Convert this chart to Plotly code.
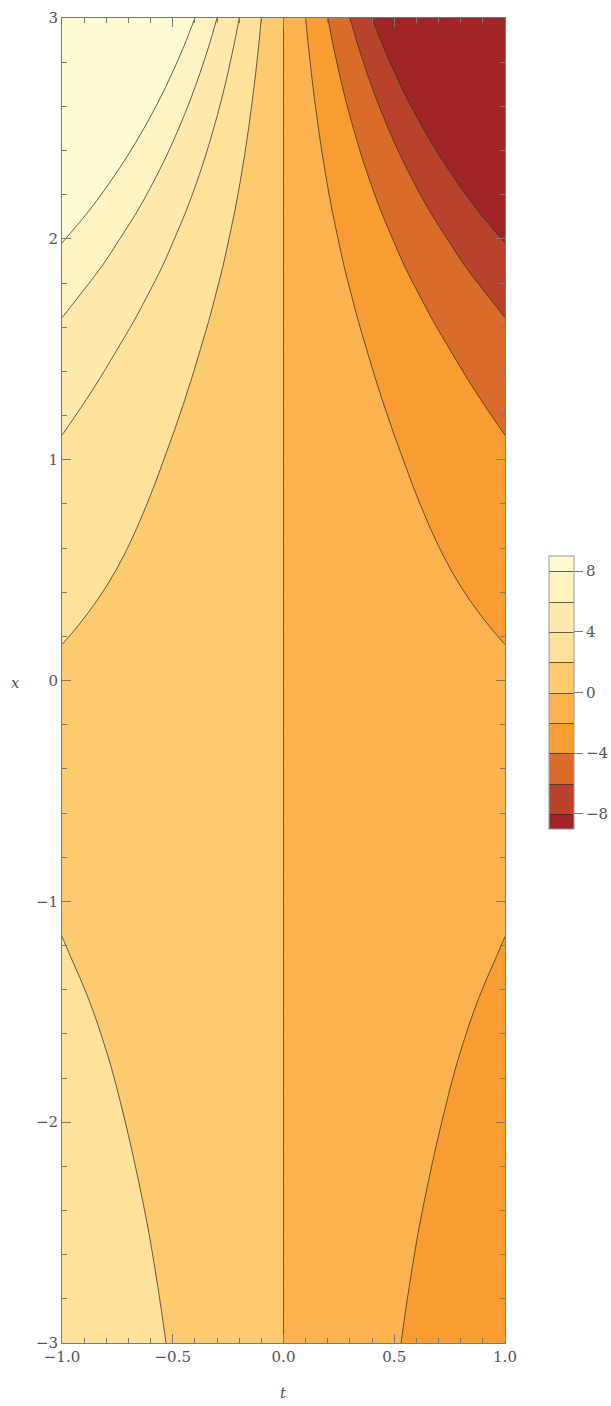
import plotly.graph_objects as go

# horizontal axis (t) sample positions: left edge, centre line, right edge
t_vals = [-1.0, 0.0, 1.0]
# vertical axis (x) sample positions, step 0.125
x_vals = [-3.0, -2.875, -2.75, -2.625, -2.5, -2.375, -2.25, -2.125,
          -2.0, -1.875, -1.75, -1.625, -1.5, -1.375, -1.25, -1.125,
          -1.0, -0.875, -0.75, -0.625, -0.5, -0.375, -0.25, -0.125,
          0.0, 0.125, 0.25, 0.375, 0.5, 0.625, 0.75, 0.875,
          1.0, 1.125, 1.25, 1.375, 1.5, 1.625, 1.75, 1.875,
          2.0, 2.125, 2.25, 2.375, 2.5, 2.625, 2.75, 2.875, 3.0]

# values (rows follow x_vals, columns follow t_vals)
z_rows = [
    [3.77, 0, -3.77], [3.65, 0, -3.65], [3.53, 0, -3.53], [3.41, 0, -3.41],
    [3.29, 0, -3.29], [3.165, 0, -3.165], [3.04, 0, -3.04], [2.92, 0, -2.92],
    [2.80, 0, -2.80], [2.685, 0, -2.685], [2.57, 0, -2.57], [2.45, 0, -2.45],
    [2.33, 0, -2.33], [2.205, 0, -2.205], [2.08, 0, -2.08], [1.97, 0, -1.97],
    [1.86, 0, -1.86], [1.76, 0, -1.76], [1.67, 0, -1.67], [1.60, 0, -1.60],
    [1.54, 0, -1.54], [1.52, 0, -1.52], [1.54, 0, -1.54], [1.61, 0, -1.61],
    [1.73, 0, -1.73], [1.93, 0, -1.93], [2.16, 0, -2.16], [2.40, 0, -2.40],
    [2.645, 0, -2.645], [2.89, 0, -2.89], [3.14, 0, -3.14], [3.41, 0, -3.41],
    [3.70, 0, -3.70], [4.04, 0, -4.04], [4.42, 0, -4.42], [4.85, 0, -4.85],
    [5.33, 0, -5.33], [5.91, 0, -5.91], [6.55, 0, -6.55], [7.31, 0, -7.31],
    [8.12, 0, -8.12], [9.09, 0, -9.09], [10.15, 0, -10.15], [11.35, 0, -11.35],
    [12.69, 0, -12.69], [14.21, 0, -14.21], [15.91, 0, -15.91], [17.84, 0, -17.84],
    [20.0, 0, -20.0],
]

# contour bands, lowest to highest
band_colors = ["#a02325", "#b8432a", "#d96c2b", "#f99c32", "#fcb34f",
               "#fdca6e", "#fee29a", "#ffeaad", "#fff3c2", "#fffbd5"]
legend_ticks = [-8, -4, 0, 4, 8]
legend_text = ["\u22128", "\u22124", "0", "4", "8"]
t_ticks = [-1.0, -0.5, 0.0, 0.5, 1.0]
t_tick_text = ["\u22121.0", "\u22120.5", "0.0", "0.5", "1.0"]
x_ticks = [-3, -2, -1, 0, 1, 2, 3]
x_tick_text = ["\u22123", "\u22122", "\u22121", "0", "1", "2", "3"]

FONT = "DejaVu Serif"
GREY = "#555555"
FRAME = "#7a7a7a"

W, H = 611, 1406
L, R, T, B = 62, 106, 18, 63
plot_w, plot_h = W - L - R, H - T - B

n = len(band_colors)
colorscale = [[i / (n - 1), c] for i, c in enumerate(band_colors)]

fig = go.Figure(go.Contour(
    x=t_vals, y=x_vals, z=z_rows,
    autocontour=False,
    contours=dict(start=-8, end=8, size=2, coloring="fill", showlines=True),
    colorscale=colorscale,
    line=dict(color="rgba(50,50,50,0.75)", width=1, smoothing=1.0),
    colorbar=dict(
        x=(549 - L) / plot_w, xanchor="left", xpad=0,
        y=(H - B - 692.5) / plot_h, yanchor="middle", ypad=0,
        lenmode="pixels", len=273, thickness=25,
        tickvals=legend_ticks, ticktext=legend_text,
        ticks="outside", ticklen=9, tickcolor=FRAME, tickwidth=1,
        outlinecolor="#999999", outlinewidth=1,
        tickfont=dict(family=FONT, size=15, color=GREY),
    ),
    hoverinfo="skip",
))

fig.update_layout(
    width=W, height=H,
    margin=dict(l=L, r=R, t=T, b=B, autoexpand=False),
    paper_bgcolor="white", plot_bgcolor="white",
    showlegend=False,
    font=dict(family=FONT, size=15, color=GREY),
    xaxis=dict(
        range=[-1, 1], tickvals=t_ticks, ticktext=t_tick_text,
        ticks="inside", ticklen=9, tickcolor=FRAME, tickwidth=1,
        showline=True, linecolor=FRAME, linewidth=1, mirror="allticks",
        showgrid=False, zeroline=False,
        minor=dict(dtick=0.1, ticks="inside", ticklen=5, tickcolor=FRAME, showgrid=False),
        tickfont=dict(family=FONT, size=15, color=GREY),
    ),
    yaxis=dict(
        range=[-3, 3], tickvals=x_ticks, ticktext=x_tick_text,
        ticks="inside", ticklen=9, tickcolor=FRAME, tickwidth=1,
        showline=True, linecolor=FRAME, linewidth=1, mirror="allticks",
        showgrid=False, zeroline=False,
        minor=dict(dtick=0.2, ticks="inside", ticklen=5, tickcolor=FRAME, showgrid=False),
        tickfont=dict(family=FONT, size=15, color=GREY),
    ),
    annotations=[
        dict(text="<i>t</i>", xref="paper", yref="paper",
             x=0.5, y=-(1393 - (H - B)) / plot_h, xanchor="center", yanchor="middle",
             showarrow=False, font=dict(family=FONT, size=15, color=GREY)),
        dict(text="<i>x</i>", xref="paper", yref="paper",
             x=(15 - L) / plot_w, y=(H - B - 683) / plot_h, xanchor="center", yanchor="middle",
             showarrow=False, font=dict(family=FONT, size=15, color=GREY)),
    ],
)

fig.write_html(
    "out.html",
    config={"displayModeBar": False},
    post_script="document.body.style.margin='0';document.body.style.overflow='hidden';",
)
